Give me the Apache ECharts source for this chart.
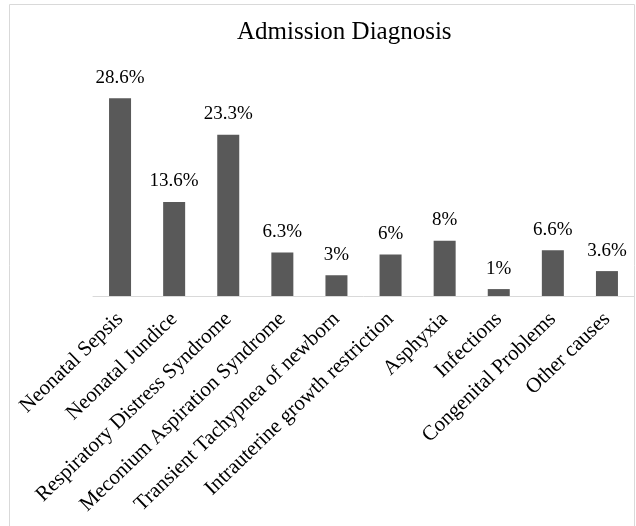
<!DOCTYPE html>
<html>
<head>
<meta charset="utf-8">
<script src="https://cdn.jsdelivr.net/npm/echarts@6/dist/echarts.min.js"></script>
<style>
  html, body { margin: 0; padding: 0; background: #fff; }
  #chart { width: 636px; height: 526px; }
</style>
</head>
<body>
<div id="chart"></div>
<script>
const categories = [
  'Neonatal Sepsis',
  'Neonatal Jundice',
  'Respiratory Distress Syndrome',
  'Meconium Aspiration Syndrome',
  'Transient Tachypnea of newborn',
  'Intrauterine growth restriction',
  'Asphyxia',
  'Infections',
  'Congenital Problems',
  'Other causes'
]
const percents = [28.6, 13.6, 23.3, 6.3, 3, 6, 8, 1, 6.6, 3.6]

const serif = '"Liberation Serif", "Times New Roman", serif'
const myChart = echarts.init(document.getElementById('chart'), null, { width: 636, height: 526 })

const option = {
  animation: false,
  title: {
    text: 'Admission Diagnosis',
    left: 232,
    top: 15,
    textStyle: { fontFamily: serif, fontSize: 25, fontWeight: 'normal', color: '#000' }
  },
  // outer chart border
  graphic: [{
    type: 'rect',
    shape: { x: 9.5, y: 4.5, width: 625, height: 540 },
    style: { fill: 'none', stroke: '#d9d9d9', lineWidth: 1 },
    silent: true
  }],
  grid: { left: 93, right: 2, top: 88.5, height: 207.5 },
  xAxis: {
    type: 'category',
    data: categories,
    axisLine: { lineStyle: { color: '#d9d9d9', width: 1 } },
    axisTick: { show: false },
    axisLabel: {
      interval: 0,
      rotate: 44,
      margin: 20,
      fontFamily: serif,
      fontSize: 21,
      color: '#000'
    }
  },
  yAxis: {
    type: 'value',
    min: 0,
    max: 30,
    show: false,
    splitLine: { show: false }
  },
  series: [{
    type: 'bar',
    data: percents,
    barWidth: 22,
    itemStyle: { color: '#595959' },
    label: {
      show: true,
      position: 'top',
      distance: 11,
      formatter: p => p.value + '%',
      fontFamily: serif,
      fontSize: 19,
      color: '#000'
    }
  }]
}
myChart.setOption(option)
</script>
</body>
</html>
